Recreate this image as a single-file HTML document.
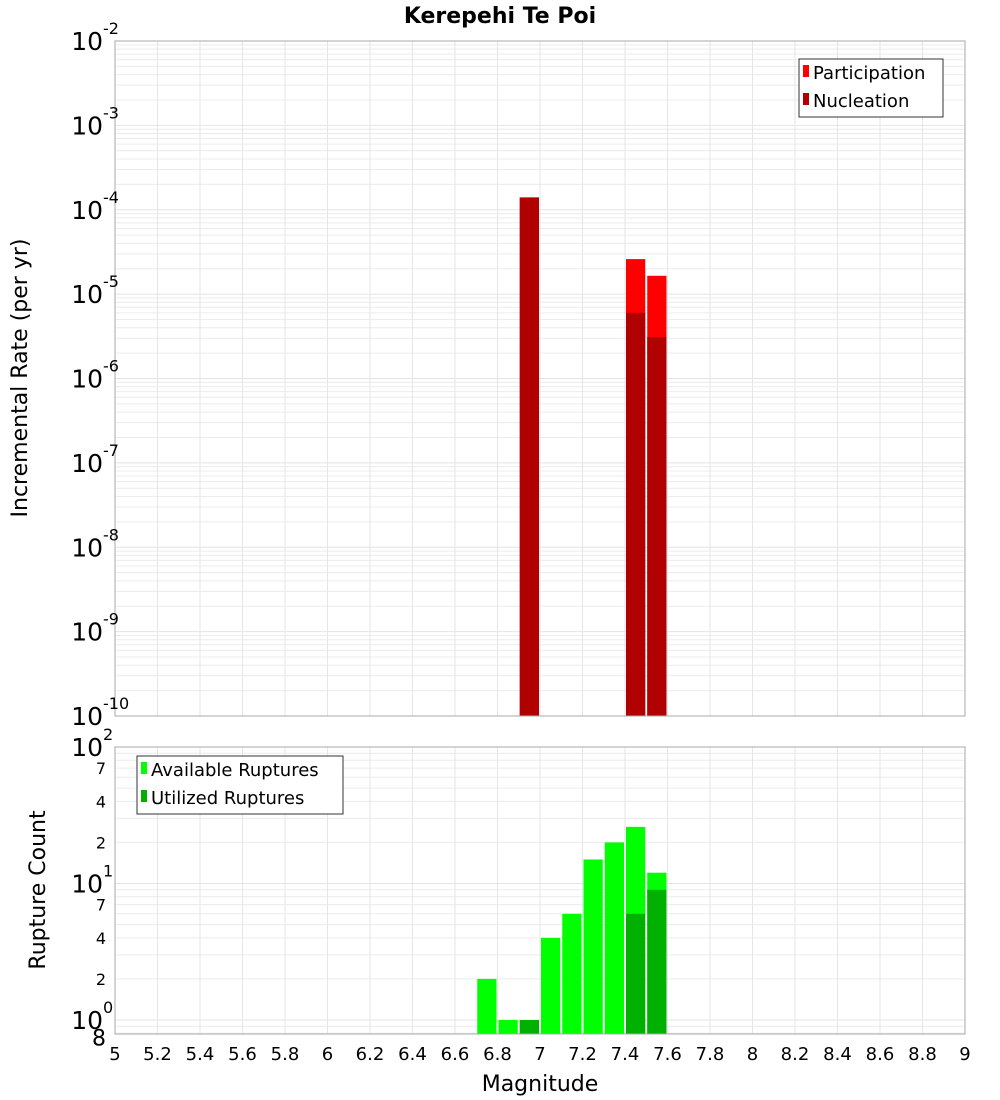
<!DOCTYPE html>
<html><head><meta charset="utf-8"><style>
html,body{margin:0;padding:0;background:#fff;}
svg{display:block;font-family:"DejaVu Sans","Liberation Sans",sans-serif;}
</style></head><body>
<svg id="c" width="1000" height="1100" xmlns="http://www.w3.org/2000/svg">
<text x="500" y="23" text-anchor="middle" font-size="22" font-weight="bold">Kerepehi Te Poi</text>
<text transform="translate(27,378) rotate(-90)" text-anchor="middle" font-size="22">Incremental Rate (per yr)</text>
<text transform="translate(45,890) rotate(-90)" text-anchor="middle" font-size="22">Rupture Count</text>
<text x="540" y="1091" text-anchor="middle" font-size="22">Magnitude</text>
<g id="topg"></g><g id="botg"></g>
</svg>
<script>
const binCenters=[6.75,6.85,6.95,7.05,7.15,7.25,7.35,7.45,7.55];
const participation=[0,0,1.4e-4,0,0,0,0,2.6e-5,1.65e-5];
const nucleation=[0,0,1.4e-4,0,0,0,0,6e-6,3.1e-6];
const available=[2,1,1,4,6,15,20,26,12];
const utilized=[0,0,1,0,0,0,0,6,9];
const xTicks=[5,5.2,5.4,5.6,5.8,6,6.2,6.4,6.6,6.8,7,7.2,7.4,7.6,7.8,8,8.2,8.4,8.6,8.8,9];
const topDecades=[-10,-9,-8,-7,-6,-5,-4,-3,-2];
const botMinorLabels=[2,4,7,20,40,70];

const NS="http://www.w3.org/2000/svg";
const L=115,R=965;
const T1=41,B1=716,T2=747,B2=1034;
const X=m=>L+(m-5)/4*(R-L);
const Y1=v=>B1-(Math.log10(v)+10)/8*(B1-T1);
const bMin=Math.log10(0.79),bMax=2;
const Y2=v=>B2-(Math.log10(v)-bMin)/(bMax-bMin)*(B2-T2);
function el(p,t,a,txt){const e=document.createElementNS(NS,t);for(const k in a)e.setAttribute(k,a[k]);if(txt!==undefined)e.textContent=txt;p.appendChild(e);return e;}
const gTop=document.getElementById('topg'),gBot=document.getElementById('botg');

function frame(g,T,B,Yf,lo,hi){
  for(let d=lo;d<hi;d++)for(let k=1;k<10;k++){const v=k*Math.pow(10,d);const y=Yf(v);if(y<T-0.5||y>B+0.5)continue;
    const ln=el(g,'line',{x1:L,x2:R,y1:y,y2:y,stroke:k==1?'#e4e4e4':'#ececec','stroke-width':1});
    
    }
  xTicks.forEach(t=>{const ln=el(g,'line',{x1:X(t),x2:X(t),y1:T,y2:B,stroke:'#e6e6e6'});
    
    });
}
frame(gTop,T1,B1,Y1,-10,-1);
frame(gBot,T2,B2,Y2,-1,3);

binCenters.forEach((m,i)=>{
  const x=X(m-0.05)+1,w=X(m+0.05)-X(m-0.05)-2;
  if(participation[i]>0){const r=el(gTop,'rect',{x:x,y:Y1(participation[i]),width:w,height:B1-Y1(participation[i]),fill:'#ff0000'});
    
    }
  if(nucleation[i]>0){const r=el(gTop,'rect',{x:x,y:Y1(nucleation[i]),width:w,height:B1-Y1(nucleation[i]),fill:'#b00000'});
    
    }
});
binCenters.forEach((m,i)=>{
  const x=X(m-0.05)+1,w=X(m+0.05)-X(m-0.05)-2;
  if(available[i]>0){const r=el(gBot,'rect',{x:x,y:Y2(available[i]),width:w,height:B2-Y2(available[i]),fill:'#00ff00'});
    
    }
  if(utilized[i]>0){const r=el(gBot,'rect',{x:x,y:Y2(utilized[i]),width:w,height:B2-Y2(utilized[i]),fill:'#00b000'});
    
    }
});
[[T1,B1,gTop],[T2,B2,gBot]].forEach(([T,B,g])=>{const r=el(g,'rect',{x:L,y:T,width:R-L,height:B-T,fill:'none',stroke:'#aaaaaa'});
  
  });
topDecades.forEach(d=>{const y=Y1(Math.pow(10,d));
  const t=el(gTop,'text',{x:103,y:y+9,'text-anchor':'end','font-size':25},'10');
  
  
  const s=el(gTop,'text',{x:103,y:y-7,'font-size':16},String(d));
  
  });
[0,1,2].forEach(d=>{const y=Y2(Math.pow(10,d));
  const t=el(gBot,'text',{x:103,y:y+9,'text-anchor':'end','font-size':25},'10');
  
  
  const s=el(gBot,'text',{x:103,y:y-7,'font-size':16},String(d));
  
  });
botMinorLabels.forEach(v=>{const t=el(gBot,'text',{x:106,y:Y2(v)+6,'text-anchor':'end','font-size':16},String(v).charAt(0));
  
  });
{const t=el(gBot,'text',{x:106,y:Y2(0.8)+12,'text-anchor':'end','font-size':22},'8');
  
  }
xTicks.forEach(v=>{const t=el(gBot,'text',{x:X(v),y:1060,'text-anchor':'middle','font-size':18},String(v));
  
  });
function legend(g,x,y,w,items,name){
  const r=el(g,'rect',{x:x,y:y,width:w,height:58,fill:'#fff',stroke:'#333'});
  
  
  items.forEach(([c,l],i)=>{
    const sw=el(g,'rect',{x:x+4,y:y+13+i*28-7,width:6,height:12,fill:c});
    
    
    const t=el(g,'text',{x:x+14,y:y+20+i*28,'font-size':18},l);
    
    });
}
legend(gTop,799,59,144,[['#ff0000','Participation'],['#b00000','Nucleation']],'top-legend');
legend(gBot,137,756,206,[['#00ff00','Available Ruptures'],['#00b000','Utilized Ruptures']],'bottom-legend');
</script>
</body></html>
